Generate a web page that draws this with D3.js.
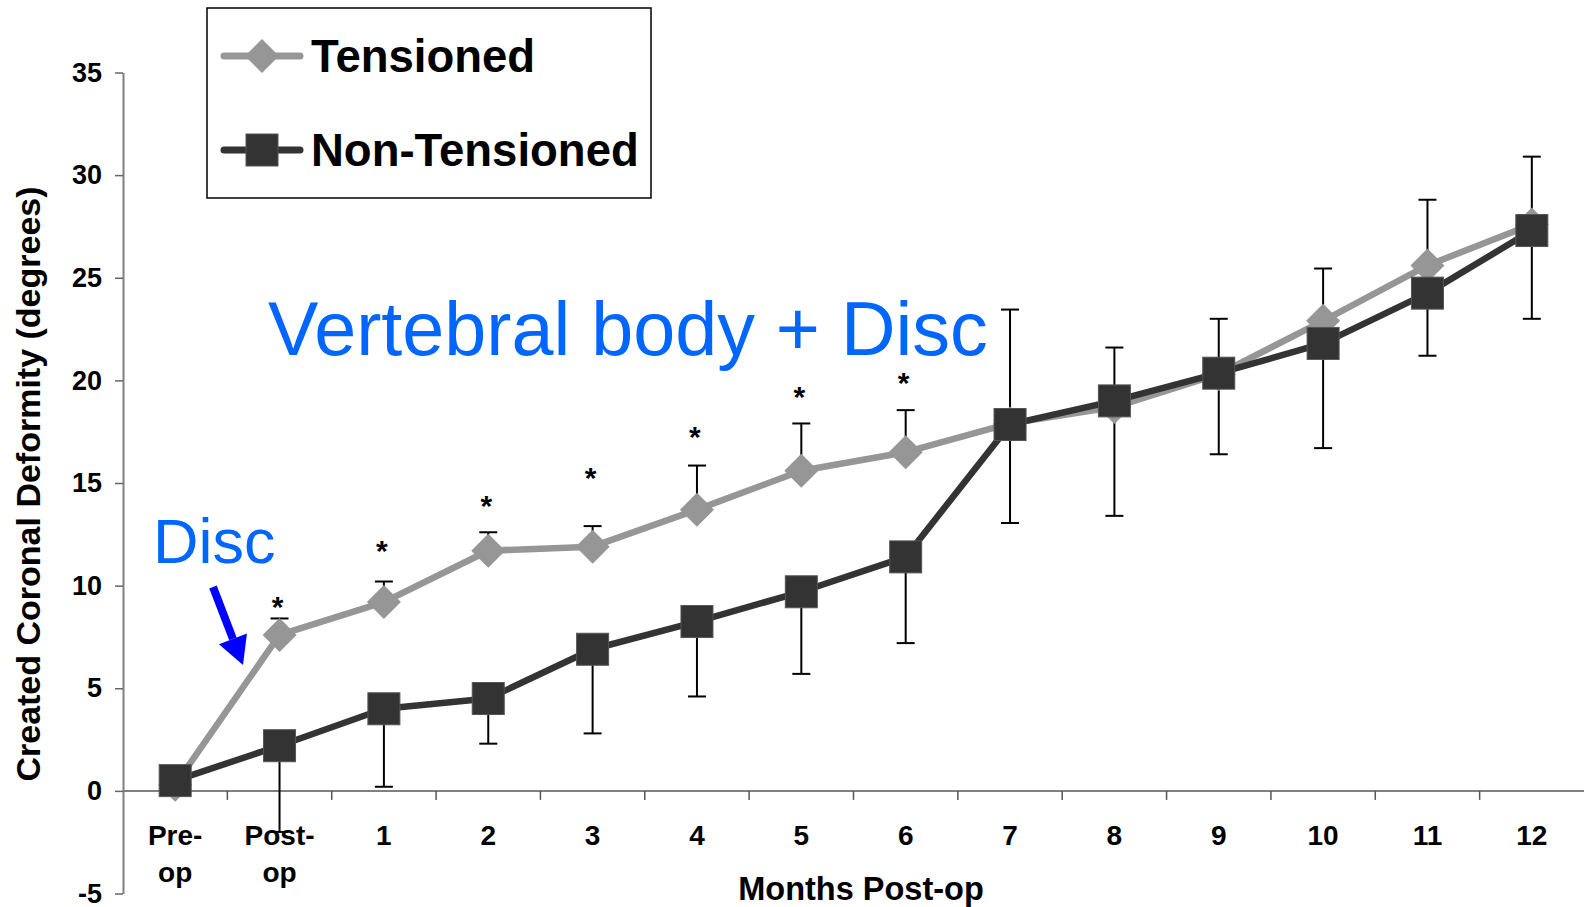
<!DOCTYPE html>
<html>
<head>
<meta charset="utf-8">
<script src="https://cdn.jsdelivr.net/npm/d3@7"></script>
<style>
  body { margin: 0; background: #fff; }
  text { font-family: "Liberation Sans", Arial, sans-serif; }
</style>
</head>
<body>
<script>
// ---------------- data ----------------
const categories = ["Pre-op", "Post-op", "1", "2", "3", "4", "5", "6", "7", "8", "9", "10", "11", "12"];
const tickLabels = [["Pre-", "op"], ["Post-", "op"], ["1"], ["2"], ["3"], ["4"], ["5"], ["6"], ["7"], ["8"], ["9"], ["10"], ["11"], ["12"]];

const tensioned      = [0.3, 7.6, 9.2, 11.7, 11.9, 13.7, 15.6, 16.5, 17.9, 18.7, 20.3, 22.9, 25.6, 27.6];
const tensionedSD    = [0, 0.8, 1.0, 0.9, 1.0, 2.15, 2.3, 2.05, 5.55, 2.9, 2.7, 2.55, 3.2, 3.3];   // drawn upward
const nonTensioned   = [0.5, 2.2, 4.0, 4.5, 6.9, 8.25, 9.7, 11.4, 17.85, 19.0, 20.35, 21.8, 24.25, 27.3];
const nonTensionedSD = [0, 4.2, 3.8, 2.2, 4.1, 3.65, 4.0, 4.2, 4.8, 5.6, 3.95, 5.1, 3.05, 4.3];   // drawn downward

// significance stars (value where the star sits)
const starValues = [null, 9.3, 12.05, 14.2, 15.6, 17.6, 19.55, 20.2, null, null, null, null, null, null];

const yTicks = [-5, 0, 5, 10, 15, 20, 25, 30, 35];

const seriesNames = ["Tensioned", "Non-Tensioned"];

// ================== LAYOUT ===========================
const width = 1584, height = 907;
const margin = {left: 123, right: 0, top: 72.5, bottom: 13.5};

const svg = d3.select("body").append("svg")
  .attr("width", width)
  .attr("height", height);

const xScale = d3.scaleBand().domain(categories).range([margin.left, width]).padding(0);
const yScale = d3.scaleLinear().domain([-5, 35]).range([height - margin.bottom, margin.top]);
const cx = c => xScale(c) + xScale.bandwidth() / 2;

const grayCol = "#969696", darkCol = "#333333";

// ============ axes =============================
const yAxis = d3.axisLeft(yScale).tickValues(yTicks).tickFormat(d => String(d))
  .tickSize(8).tickSizeOuter(0).tickPadding(13);
const gy = svg.append("g").attr("transform", `translate(${margin.left},0)`).call(yAxis);
gy.select(".domain").attr("stroke", "#808080").attr("stroke-width", 2);
gy.selectAll(".tick line").attr("stroke", "#666").attr("stroke-width", 1.5);
gy.selectAll(".tick text")
  .attr("font-size", 27).attr("font-weight", "bold").attr("fill", "#000")
  .attr("font-family", "'Liberation Sans', Arial, sans-serif");

// x axis along y = 0
const y0 = yScale(0);
svg.append("line")
  .attr("x1", margin.left).attr("x2", width)
  .attr("y1", y0).attr("y2", y0)
  .attr("stroke", "#808080").attr("stroke-width", 2);

// boundary ticks
svg.append("g").selectAll("line")
  .data(categories.slice(1)).enter()
  .append("line")
  .attr("x1", d => xScale(d)).attr("x2", d => xScale(d))
  .attr("y1", y0).attr("y2", y0 + 9)
  .attr("stroke", "#555").attr("stroke-width", 1.5);

// tick labels
const xl = svg.append("g").selectAll("text")
  .data(categories).enter()
  .append("text")
  .attr("x", d => cx(d))
  .attr("y", 845)
  .attr("text-anchor", "middle")
  .attr("font-size", 28).attr("font-weight", "bold");
xl.each(function(d, i) {
  const t = d3.select(this);
  tickLabels[i].forEach((s, k) => {
    t.append("tspan").attr("x", cx(d)).attr("dy", k === 0 ? 0 : 37).text(s);
  });
});

// axis titles
svg.append("text")
  .attr("x", 861).attr("y", 900)
  .attr("text-anchor", "middle")
  .attr("font-size", 32.5).attr("font-weight", "bold")
  .text("Months Post-op");

svg.append("text")
  .attr("transform", "translate(40,484) rotate(-90)")
  .attr("text-anchor", "middle")
  .attr("font-size", 34).attr("font-weight", "bold")
  .text("Created Coronal Deformity (degrees)");

// ============ error bars =============================
const capW = 9;
const eb = svg.append("g").attr("stroke", "#000").attr("stroke-width", 2);
categories.forEach((c, i) => {
  if (tensionedSD[i] > 0) {
    const top = yScale(tensioned[i] + tensionedSD[i]);
    eb.append("line").attr("x1", cx(c)).attr("x2", cx(c)).attr("y1", yScale(tensioned[i])).attr("y2", top);
    eb.append("line").attr("x1", cx(c) - capW).attr("x2", cx(c) + capW).attr("y1", top).attr("y2", top);
  }
  if (nonTensionedSD[i] > 0) {
    const bot = yScale(nonTensioned[i] - nonTensionedSD[i]);
    eb.append("line").attr("x1", cx(c)).attr("x2", cx(c)).attr("y1", yScale(nonTensioned[i])).attr("y2", bot);
    eb.append("line").attr("x1", cx(c) - capW).attr("x2", cx(c) + capW).attr("y1", bot).attr("y2", bot);
  }
});

// ============ lines & markers =============================
const line = d3.line().x((d, i) => cx(categories[i])).y(d => yScale(d));

svg.append("path").datum(tensioned)
  .attr("d", line).attr("fill", "none")
  .attr("stroke", grayCol).attr("stroke-width", 6.5).attr("stroke-linejoin", "round");

const diamond = d3.symbol().type(d3.symbolSquare).size(17 * 17 * 2);
svg.append("g").selectAll("path")
  .data(tensioned).enter()
  .append("path")
  .attr("d", diamond)
  .attr("transform", (d, i) => `translate(${cx(categories[i])},${yScale(d)}) rotate(45)`)
  .attr("fill", grayCol);

svg.append("path").datum(nonTensioned)
  .attr("d", line).attr("fill", "none")
  .attr("stroke", darkCol).attr("stroke-width", 6.5).attr("stroke-linejoin", "round");

const sq = 32;
svg.append("g").selectAll("rect")
  .data(nonTensioned).enter()
  .append("rect")
  .attr("x", (d, i) => cx(categories[i]) - sq / 2)
  .attr("y", d => yScale(d) - sq / 2)
  .attr("width", sq).attr("height", sq)
  .attr("fill", darkCol).attr("stroke", "#555").attr("stroke-width", 1);

// stars
svg.append("g").selectAll("text")
  .data(starValues.map((v, i) => ({v, c: categories[i]})).filter(d => d.v !== null)).enter()
  .append("text")
  .attr("x", d => cx(d.c) - 2)
  .attr("y", d => yScale(d.v) + 17)
  .attr("text-anchor", "middle")
  .attr("font-size", 30).attr("font-weight", "bold")
  .text("*");

// ============ annotations =============================
svg.append("text")
  .attr("x", 268).attr("y", 355)
  .attr("font-size", 75.5).attr("fill", "#0066ff")
  .text("Vertebral body + Disc");

svg.append("text")
  .attr("x", 153).attr("y", 563)
  .attr("font-size", 63).attr("fill", "#0066ff")
  .text("Disc");

// blue arrow
const ax1 = 213, ay1 = 587, ax2 = 243, ay2 = 665;
const ang = Math.atan2(ay2 - ay1, ax2 - ax1);
const headL = 28, headW = 15;
const bx = ax2 - headL * Math.cos(ang), by = ay2 - headL * Math.sin(ang);
svg.append("line")
  .attr("x1", ax1).attr("y1", ay1).attr("x2", bx).attr("y2", by)
  .attr("stroke", "#0000ff").attr("stroke-width", 8);
svg.append("path")
  .attr("d", `M${ax2},${ay2} L${bx + headW * Math.sin(ang)},${by - headW * Math.cos(ang)} L${bx - headW * Math.sin(ang)},${by + headW * Math.cos(ang)} Z`)
  .attr("fill", "#0000ff");

// ============ legend =============================
const lg = svg.append("g");
lg.append("rect")
  .attr("x", 207).attr("y", 8).attr("width", 444).attr("height", 190)
  .attr("fill", "#fff").attr("stroke", "#000").attr("stroke-width", 1.5);

const legendY = [56, 150];
seriesNames.forEach((name, k) => {
  const yy = legendY[k];
  lg.append("line")
    .attr("x1", 224).attr("x2", 300).attr("y1", yy).attr("y2", yy)
    .attr("stroke", k === 0 ? grayCol : darkCol).attr("stroke-width", 7).attr("stroke-linecap", "round");
  if (k === 0) {
    lg.append("path").attr("d", diamond)
      .attr("transform", `translate(262,${yy}) rotate(45)`)
      .attr("fill", grayCol);
  } else {
    lg.append("rect")
      .attr("x", 262 - sq / 2).attr("y", yy - sq / 2).attr("width", sq).attr("height", sq)
      .attr("fill", darkCol).attr("stroke", "#555").attr("stroke-width", 1);
  }
  lg.append("text")
    .attr("x", 311).attr("y", yy + 16)
    .attr("font-size", 45.5).attr("font-weight", "bold")
    .text(name);
});
</script>
</body>
</html>
